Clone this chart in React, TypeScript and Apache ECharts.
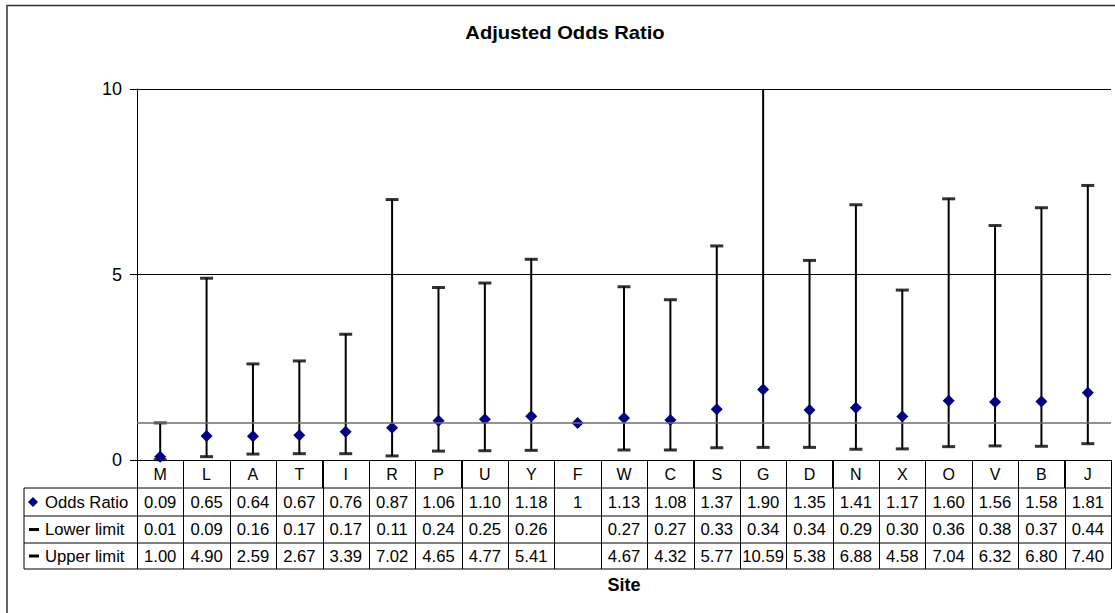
import React, { useEffect, useRef } from "react";
import * as echarts from "echarts";

const categories = ["M", "L", "A", "T", "I", "R", "P", "U", "Y", "F", "W", "C", "S", "G", "D", "N", "X", "O", "V", "B", "J"];
const oddsRatio = [0.09, 0.65, 0.64, 0.67, 0.76, 0.87, 1.06, 1.1, 1.18, 1, 1.13, 1.08, 1.37, 1.9, 1.35, 1.41, 1.17, 1.6, 1.56, 1.58, 1.81];
const lowerLimit: (number | null)[] = [0.01, 0.09, 0.16, 0.17, 0.17, 0.11, 0.24, 0.25, 0.26, null, 0.27, 0.27, 0.33, 0.34, 0.34, 0.29, 0.3, 0.36, 0.38, 0.37, 0.44];
const upperLimit: (number | null)[] = [1.0, 4.9, 2.59, 2.67, 3.39, 7.02, 4.65, 4.77, 5.41, null, 4.67, 4.32, 5.77, 10.59, 5.38, 6.88, 4.58, 7.04, 6.32, 6.8, 7.4];
const yTicks = [0, 5, 10];
const referenceValue = 1;

const FONT = '"Liberation Sans", Arial, sans-serif';
const W = 1115;
const H = 613;
const PLOT_L = 137;
const PLOT_R = 1111;
const PLOT_T = 89;
const PLOT_B = 460;
const ROW_Y = [488, 516, 543, 569];
const TABLE_L = 24;

function fmtOdds(v: number) {
  return Number.isInteger(v) ? String(v) : v.toFixed(2);
}
function fmtLim(v: number | null) {
  return v == null ? "" : v.toFixed(2);
}

export default function App() {
  const ref = useRef<HTMLDivElement>(null);
  useEffect(() => {
    document.body.style.margin = "0";
    if (!ref.current) return;
    const chart = echarts.init(ref.current, undefined, { renderer: "svg" });
    const n = categories.length;
    const bw = (PLOT_R - PLOT_L) / n;
    const graphics: any[] = [];

    // outer frame
    graphics.push({
      type: "rect",
      shape: { x: 7, y: 5.5, width: 1300, height: 800 },
      style: { fill: "none", stroke: "#333", lineWidth: 1.5 },
      silent: true,
    });
    // title
    graphics.push({
      type: "text",
      x: 565,
      y: 33,
      originX: 0,
      originY: 0,
      scaleX: 1.12,
      style: { text: "Adjusted Odds Ratio", fontSize: 18, fontWeight: "bold", fontFamily: FONT, fill: "#000", align: "center", verticalAlign: "middle" },
    });
    // table horizontal lines
    ROW_Y.forEach((y) => {
      graphics.push({
        type: "line",
        shape: { x1: TABLE_L, y1: y, x2: PLOT_R, y2: y },
        style: { stroke: "#000", lineWidth: 1 },
      });
    });
    // vertical lines
    graphics.push({ type: "line", shape: { x1: TABLE_L, y1: ROW_Y[0], x2: TABLE_L, y2: ROW_Y[3] }, style: { stroke: "#000", lineWidth: 1 } });
    for (let i = 0; i <= n; i++) {
      const x = Math.round(PLOT_L + i * bw) + 0.5;
      graphics.push({ type: "line", shape: { x1: x, y1: PLOT_B, x2: x, y2: ROW_Y[3] }, style: { stroke: "#000", lineWidth: 1 } });
    }
    // row labels
    const rows = [
      { label: "Odds Ratio", vals: oddsRatio.map(fmtOdds), sym: "diamond" },
      { label: "Lower limit", vals: lowerLimit.map(fmtLim), sym: "dash" },
      { label: "Upper limit", vals: upperLimit.map(fmtLim), sym: "dash" },
    ];
    rows.forEach((r, ri) => {
      const cy = (ROW_Y[ri] + ROW_Y[ri + 1]) / 2;
      if (r.sym === "diamond") {
        graphics.push({
          type: "polygon",
          shape: { points: [[33, cy - 5], [38, cy], [33, cy + 5], [28, cy]] },
          style: { fill: "#000080" },
        });
      } else {
        graphics.push({ type: "rect", shape: { x: 29, y: cy - 1.5, width: 10, height: 3 }, style: { fill: "#000" } });
      }
      graphics.push({
        type: "text",
        x: 45,
        y: cy,
        scaleX: 1.04,
        style: { text: r.label, fontSize: 16, fontFamily: FONT, fill: "#000", align: "left", verticalAlign: "middle" },
      });
      r.vals.forEach((v, i) => {
        if (!v) return;
        graphics.push({
          type: "text",
          x: PLOT_L + (i + 0.5) * bw,
          y: cy,
          scaleX: 1.04,
          style: { text: v, fontSize: 16, fontFamily: FONT, fill: "#000", align: "center", verticalAlign: "middle" },
        });
      });
    });
    // axis title
    graphics.push({
      type: "text",
      x: (PLOT_L + PLOT_R) / 2,
      y: 585,
      style: { text: "Site", fontSize: 18, fontWeight: "bold", fontFamily: FONT, fill: "#000", align: "center", verticalAlign: "middle" },
    });

    const rangeData = categories.map((c, i) => [i, lowerLimit[i], upperLimit[i]]);

    chart.setOption({
      animation: false,
      backgroundColor: "#fff",
      textStyle: { fontFamily: FONT },
      grid: { left: PLOT_L, right: W - PLOT_R, top: PLOT_T, bottom: H - PLOT_B, containLabel: false },
      xAxis: {
        type: "category",
        data: categories,
        boundaryGap: true,
        axisLine: { show: true, lineStyle: { color: "#000", width: 1 } },
        axisTick: { show: true, length: 28, interval: 0, lineStyle: { color: "#000" } },
        axisLabel: { interval: 0, fontSize: 16, color: "#000", margin: 6, fontFamily: FONT },
        splitLine: { show: false },
      },
      yAxis: {
        type: "value",
        min: yTicks[0],
        max: yTicks[yTicks.length - 1],
        interval: 5,
        axisLine: { show: true, lineStyle: { color: "#000", width: 1 } },
        axisTick: { show: true, length: 7, lineStyle: { color: "#000" } },
        axisLabel: { fontSize: 18, color: "#000", margin: 15, fontFamily: FONT },
        splitLine: { show: true, lineStyle: { color: "#000", width: 1 } },
      },
      series: [
        {
          name: "Range",
          type: "custom",
          clip: true,
          z: 2,
          data: rangeData,
          renderItem: (params: any, api: any) => {
            const lo = api.value(1);
            const hi = api.value(2);
            if (lo == null || hi == null || isNaN(lo) || isNaN(hi)) return null;
            const p1 = api.coord([api.value(0), lo]);
            const p2 = api.coord([api.value(0), hi]);
            return {
              type: "line",
              shape: { x1: p1[0], y1: p1[1], x2: p2[0], y2: p2[1] },
              style: { stroke: "#000", lineWidth: 2 },
            };
          },
        },
        {
          name: "Lower limit",
          type: "scatter",
          clip: true,
          z: 3,
          symbol: "rect",
          symbolSize: [13, 3],
          itemStyle: { color: "#000" },
          data: lowerLimit.map((v) => (v == null ? "-" : v)),
        },
        {
          name: "Upper limit",
          type: "scatter",
          clip: true,
          z: 3,
          symbol: "rect",
          symbolSize: [13, 3],
          itemStyle: { color: "#000" },
          data: upperLimit.map((v) => (v == null ? "-" : v)),
        },
        {
          name: "Reference",
          type: "line",
          z: 1,
          data: [],
          markLine: {
            silent: true,
            symbol: ["none", "none"],
            label: { show: false },
            lineStyle: { color: "#6e6e6e", width: 1.5, type: "solid" },
            data: [{ yAxis: referenceValue }],
          },
        },
        {
          name: "Odds Ratio",
          type: "scatter",
          z: 4,
          symbol: "diamond",
          symbolSize: [12, 12],
          itemStyle: { color: "#000080", opacity: 1 },
          data: oddsRatio,
        },
      ],
      graphic: graphics,
    });
    return () => chart.dispose();
  }, []);
  return <div ref={ref} style={{ width: W, height: H }} />;
}
